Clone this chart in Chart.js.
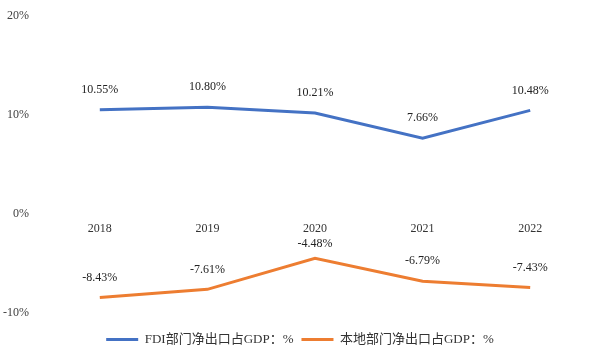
<!DOCTYPE html>
<html>
<head>
<meta charset="utf-8">
<script src="https://cdn.jsdelivr.net/npm/chart.js@4"></script>
<style>
  html, body { margin: 0; padding: 0; background: #fff; }
  #wrap { width: 600px; height: 361px; }
</style>
</head>
<body>
<div id="wrap"><canvas id="myChart" width="600" height="361"></canvas></div>
<script>
const years = ['2018', '2019', '2020', '2021', '2022'];
const fdiNetExport = [10.55, 10.80, 10.21, 7.66, 10.48];
const localNetExport = [-8.43, -7.61, -4.48, -6.79, -7.43];
const seriesNames = ['FDI部门净出口占GDP：%', '本地部门净出口占GDP：%'];

const serif = '"Liberation Serif", "DejaVu Serif", "Noto Sans CJK SC", serif';

// draws the value above every point, keeping clear of the year labels
const valueLabels = {
  id: 'valueLabels',
  afterDatasetsDraw(chart) {
    const ctx = chart.ctx;
    const zeroY = chart.scales.y.getPixelForValue(0);
    ctx.save();
    ctx.font = '12px ' + serif;
    ctx.fillStyle = '#222';
    ctx.textAlign = 'center';
    ctx.textBaseline = 'middle';
    chart.data.datasets.forEach((ds, i) => {
      chart.getDatasetMeta(i).data.forEach((pt, j) => {
        let y = pt.y - 20;
        if (ds.data[j] < 0) y = Math.max(y, zeroY + 30);
        ctx.fillText(ds.data[j].toFixed(2) + '%', pt.x, y);
      });
    });
    ctx.restore();
  }
};

const ctx = document.getElementById('myChart');

new Chart(ctx, {
  type: 'line',
  data: {
    labels: years,
    datasets: [
      {
        label: seriesNames[0],
        data: fdiNetExport,
        borderColor: '#4472C4',
        backgroundColor: '#4472C4',
        borderWidth: 3,
        pointRadius: 0,
        tension: 0,
      },
      {
        label: seriesNames[1],
        data: localNetExport,
        borderColor: '#ED7D31',
        backgroundColor: '#ED7D31',
        borderWidth: 3,
        pointRadius: 0,
        tension: 0,
      },
    ],
  },
  options: {
    responsive: false,
    animation: false,
    layout: { padding: { top: 9, right: 0, left: 0, bottom: 5 } },
    scales: {
      x: {
        position: { y: 0 },
        offset: true,
        grid: { display: false },
        border: { display: false },
        ticks: { color: '#333', font: { family: serif, size: 12 }, padding: 0 },
      },
      // empty axes that only reserve space round the plot
      xSpace: {
        type: 'category',
        position: 'bottom',
        grid: { display: false },
        border: { display: false },
        ticks: { display: false },
        afterFit: (s) => { s.height = 12; },
      },
      y: {
        min: -10,
        max: 20,
        grid: { display: false },
        border: { display: false },
        afterFit: (s) => { s.width = 46; },
        ticks: {
          stepSize: 10,
          color: '#404040',
          font: { family: serif, size: 12 },
          padding: 9,
          callback: (v) => v + '%',
        },
      },
      ySpace: {
        position: 'right',
        grid: { display: false },
        border: { display: false },
        ticks: { display: false },
        afterFit: (s) => { s.width = 16; },
      },
    },
    plugins: {
      legend: {
        position: 'bottom',
        labels: {
          usePointStyle: true,
          pointStyle: 'line',
          pointStyleWidth: 32,
          padding: 8,
          color: '#333',
          font: { family: serif, size: 13 },
        },
      },
      tooltip: { enabled: false },
    },
  },
  plugins: [valueLabels],
});
</script>
</body>
</html>
